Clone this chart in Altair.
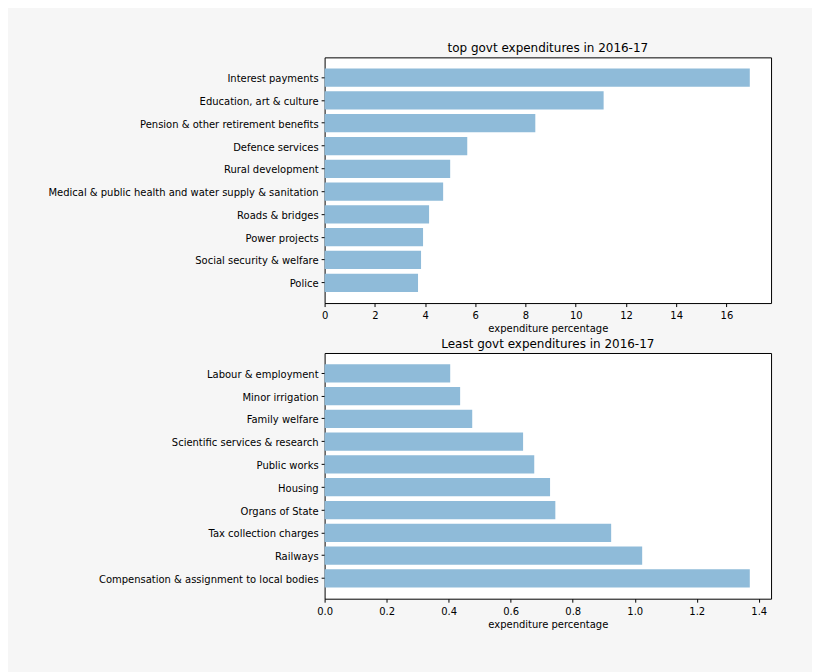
import altair as alt
import pandas as pd

top_categories = [
    "Interest payments",
    "Education, art & culture",
    "Pension & other retirement benefits",
    "Defence services",
    "Rural development",
    "Medical & public health and water supply & sanitation",
    "Roads & bridges",
    "Power projects",
    "Social security & welfare",
    "Police",
]
top_values = [16.93, 11.11, 8.39, 5.68, 5.00, 4.72, 4.16, 3.92, 3.84, 3.72]

least_categories = [
    "Labour & employment",
    "Minor irrigation",
    "Family welfare",
    "Scientific services & research",
    "Public works",
    "Housing",
    "Organs of State",
    "Tax collection charges",
    "Railways",
    "Compensation & assignment to local bodies",
]
least_values = [0.405, 0.437, 0.476, 0.640, 0.676, 0.727, 0.744, 0.924, 1.024, 1.371]

top_ticks = [0, 2, 4, 6, 8, 10, 12, 14, 16]
least_ticks = [0.0, 0.2, 0.4, 0.6, 0.8, 1.0, 1.2, 1.4]

FONT = "DejaVu Sans"
BAR = "#8fbbd9"


def panel(cats, vals, ticks, fmt, title):
    df = pd.DataFrame({"category": cats, "value": vals})
    dmax = max(vals) * 1.05
    return (
        alt.Chart(df)
        .mark_bar(color=BAR)
        .encode(
            x=alt.X(
                "value:Q",
                title="expenditure percentage",
                scale=alt.Scale(domain=[0, dmax], nice=False, zero=True),
                axis=alt.Axis(values=ticks, format=fmt, grid=False, domain=False,
                              tickColor="black", tickSize=3.5, labelPadding=4,
                              labelColor="black", labelFontSize=10, labelFont=FONT,
                              titleFont=FONT, titleFontSize=10, titleFontWeight="normal",
                              titleColor="black", titlePadding=3, labelFlush=False),
            ),
            y=alt.Y(
                "category:N",
                sort=cats,
                title=None,
                scale=alt.Scale(paddingInner=0.2, paddingOuter=0.49),
                axis=alt.Axis(grid=False, domain=False, tickColor="black", tickSize=3.5,
                              labelPadding=3, labelColor="black", labelFontSize=10,
                              labelFont=FONT, labelLimit=400, labelOffset=1.5),
            ),
        )
        .properties(
            width=447,
            height=246,
            title=alt.TitleParams(title, font=FONT, fontSize=12, fontWeight="normal",
                                  color="black", offset=2),
        )
    )


top = panel(top_categories, top_values, top_ticks, "d", "top govt expenditures in 2016-17")
least = panel(least_categories, least_values, least_ticks, ".1f", "Least govt expenditures in 2016-17")

chart = (
    alt.vconcat(top, least, spacing=50, bounds="flush")
    .properties(
        background="#f6f6f6",
        padding={"left": 39, "top": 33, "right": 40, "bottom": 64},
    )
    .configure_view(fill="white", stroke="black", strokeWidth=1)
)

chart.save("out.html", embed_options={"renderer": "svg", "actions": False})
